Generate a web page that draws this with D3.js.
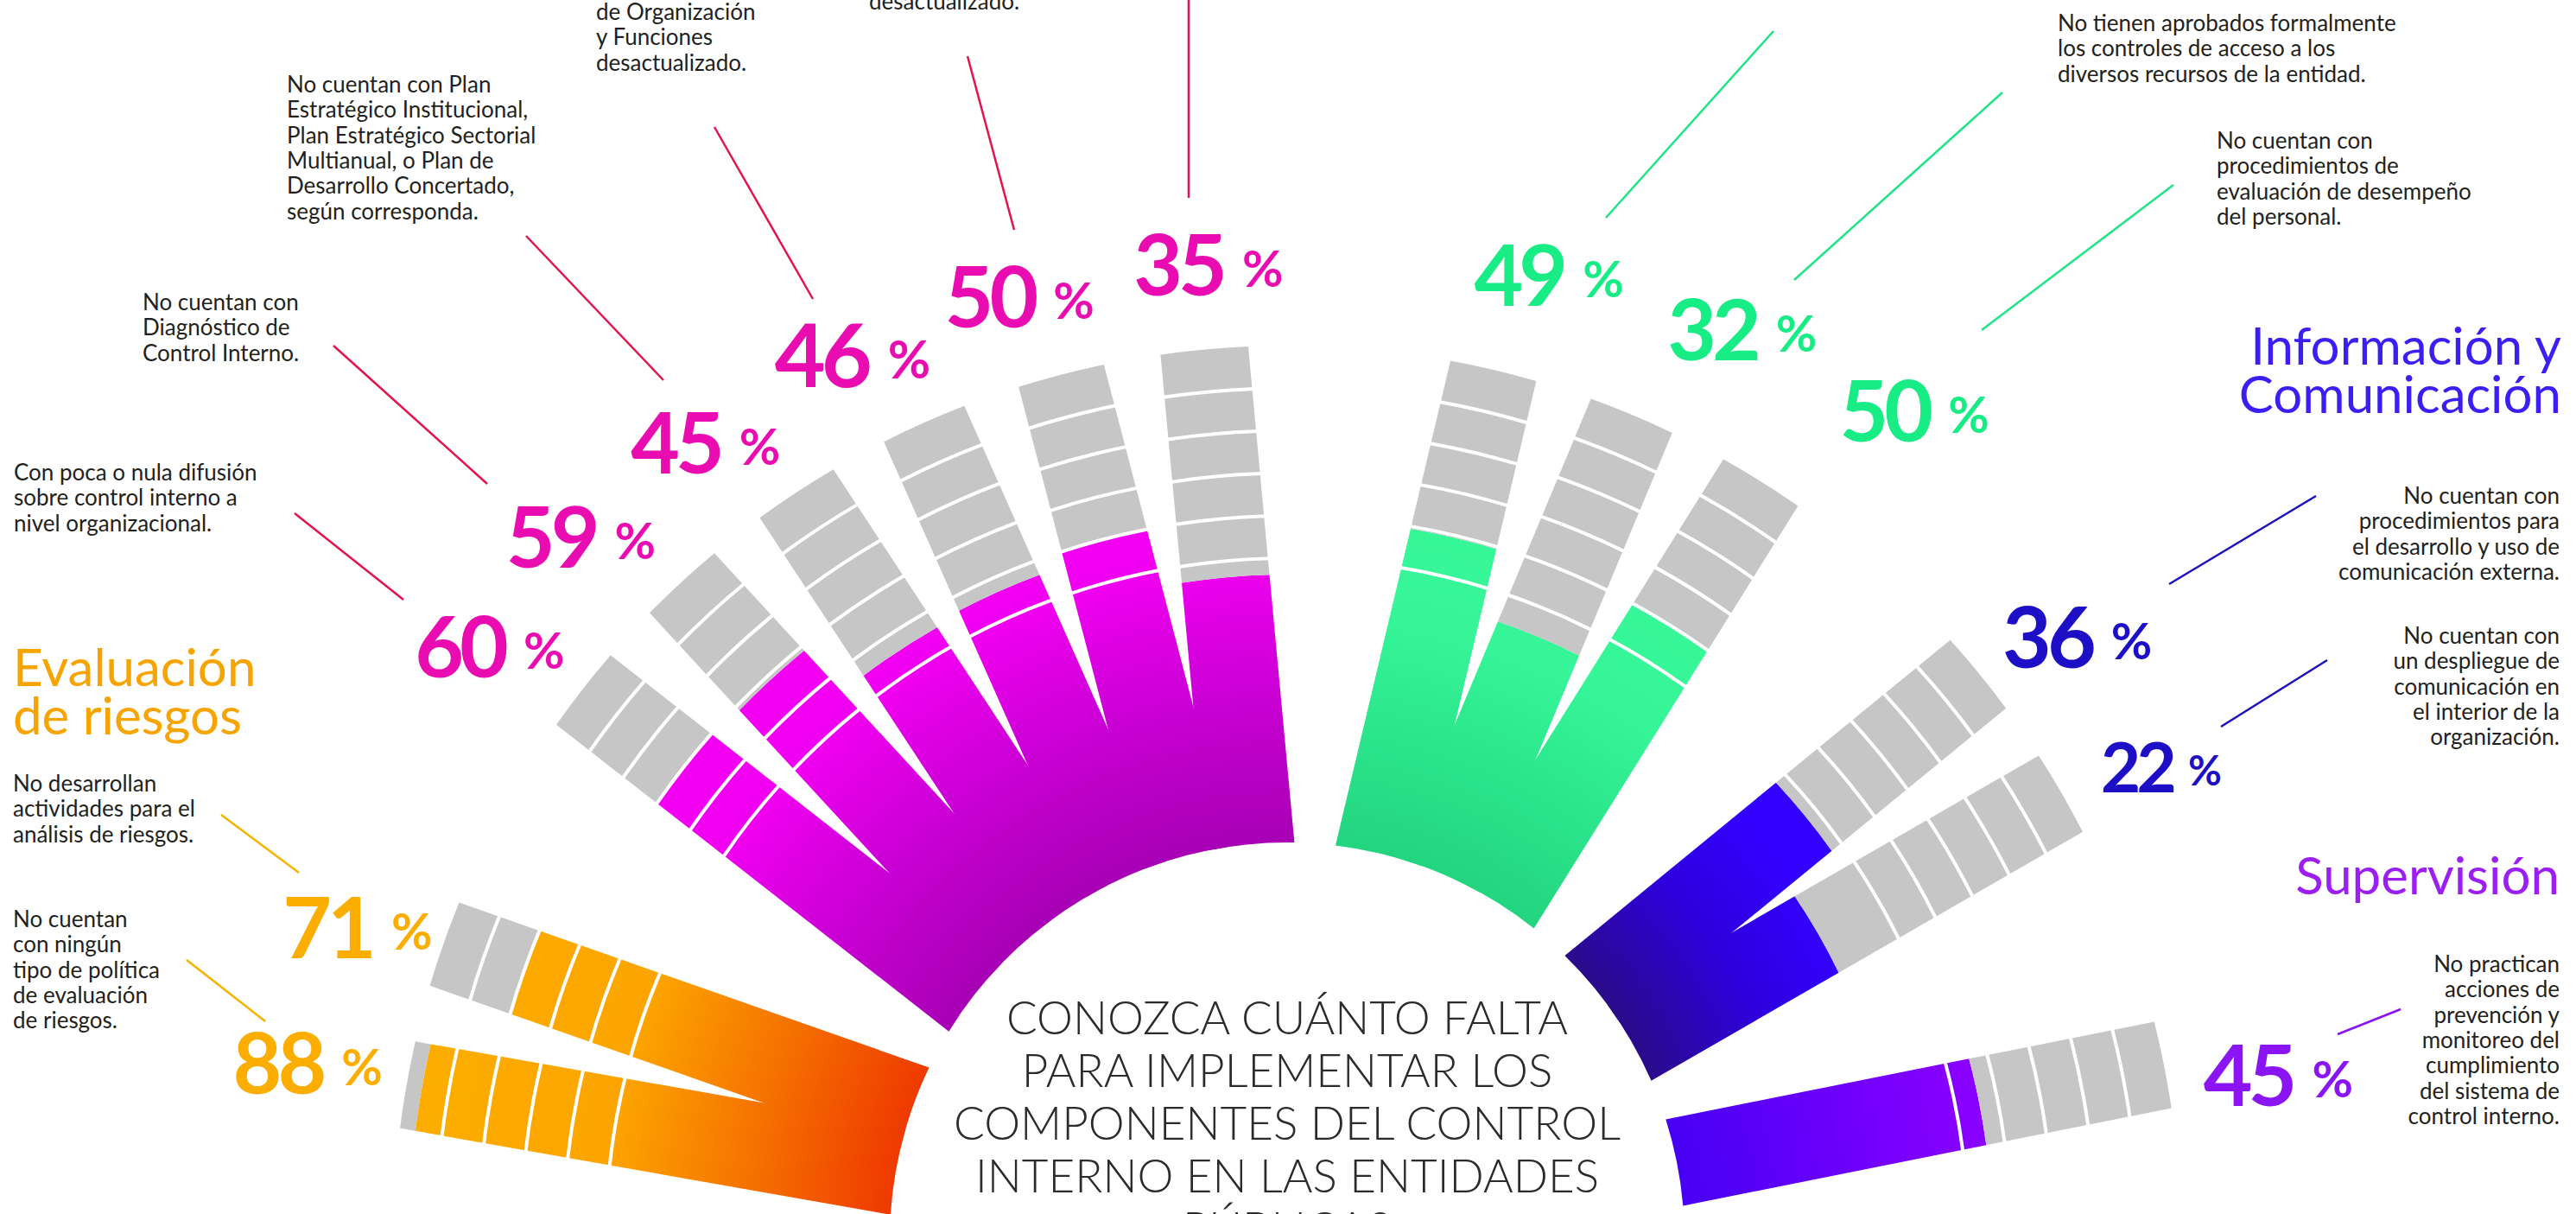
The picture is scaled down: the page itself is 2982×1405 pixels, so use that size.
<!DOCTYPE html>
<html>
<head>
<meta charset="utf-8">
<script src="https://cdn.jsdelivr.net/npm/d3@7"></script>
<style>
    html, body { margin: 0; padding: 0; background: #fff; overflow: hidden; }
    text { font-family: Lato, "Open Sans", sans-serif; }
</style>
</head>
<body>
<div id="chart"></div>
<script>
// values read off the infographic: % of entities that lack each element
var groupKeys = ["riesgos", "ambiente", "actividades", "informacion", "supervision"];
var barGroups = ["riesgos", "riesgos",
    "ambiente", "ambiente", "ambiente", "ambiente", "ambiente", "ambiente",
    "actividades", "actividades", "actividades",
    "informacion", "informacion",
    "supervision"];
var barValues = [88, 71, 60, 59, 45, 46, 50, 35, 49, 32, 50, 36, 22, 45];

var groupTitles = {
    riesgos: ["Evaluación", "de riesgos"],
    informacion: ["Información y", "Comunicación"],
    supervision: ["Supervisión"]
};

var barNotes = [
    ["No cuentan", "con ningún", "tipo de política", "de evaluación", "de riesgos."],
    ["No desarrollan", "actividades para el", "análisis de riesgos."],
    ["Con poca o nula difusión", "sobre control interno a", "nivel organizacional."],
    ["No cuentan con", "Diagnóstico de", "Control Interno."],
    ["No cuentan con Plan", "Estratégico Institucional,", "Plan Estratégico Sectorial", "Multianual, o Plan de", "Desarrollo Concertado,", "según corresponda."],
    ["de Organización", "y Funciones", "desactualizado."],
    ["desactualizado."],
    [],
    [],
    ["No tienen aprobados formalmente", "los controles de acceso a los", "diversos recursos de la entidad."],
    ["No cuentan con", "procedimientos de", "evaluación de desempeño", "del personal."],
    ["No cuentan con", "procedimientos para", "el desarrollo y uso de", "comunicación externa."],
    ["No cuentan con", "un despliegue de", "comunicación en", "el interior de la", "organización."],
    ["No practican", "acciones de", "prevención y", "monitoreo del", "cumplimiento", "del sistema de", "control interno."]
];

var titleLines = ["CONOZCA CUÁNTO FALTA", "PARA IMPLEMENTAR LOS", "COMPONENTES DEL CONTROL", "INTERNO EN LAS ENTIDADES", "PÚBLICAS"];

// ---- layout ----
var width = 2982, height = 1405;
var cx = 1490, cy = 1435;
var rInner = 460, rOuter = 1035, halfW = 51;
var ringStep = 49.2, ringCount = 5;

var groupColor = {
    riesgos: "#fbad00",
    ambiente: "#e90cb1",
    actividades: "#17ec85",
    informacion: "#1d0fc6",
    supervision: "#8b14f2"
};
var leaderColor = {
    riesgos: "#f5b400",
    ambiente: "#e3144d",
    actividades: "#1fe486",
    informacion: "#1a10c0",
    supervision: "#8a12f0"
};
var titleColor = {
    riesgos: "#f7a400",
    informacion: "#3b1ef2",
    supervision: "#9b1ff2"
};
var gradStops = {
    riesgos: [[0.44, "#ee3800"], [0.6, "#f57000"], [0.76, "#fca400"], [1, "#fdae00"]],
    ambiente: [[0.44, "#a600b4"], [0.62, "#cc00d6"], [0.76, "#f000f0"], [1, "#f800f8"]],
    actividades: [[0.44, "#22d47e"], [0.7, "#35f598"], [1, "#3afb9a"]],
    informacion: [[0.44, "#2b0b88"], [0.58, "#2e00dc"], [0.7, "#3300ff"], [1, "#3300ff"]],
    supervision: [[0.44, "#4600f4"], [0.78, "#8a00ff"], [1, "#8c00ff"]]
};

// label placement: [radius, angle offset, size factor] relative to its bar
var labelNudge = [[1152, 0.2, 1], [1135, -0.8, 1], [1150, -1.4, 1], [1153, -2.5, 1], [1142, -2.8, 1], [1140, -2.2, 1.04],
    [1134, -1.2, 1], [1132, 0.7, 1], [1156, 1.85, 1], [1177, 3.9, 1], [1203, 5.1, 1], [1150, 2.0, 1], [1150, 1.6, 0.82], [1163, 1.9, 1]];

// note blocks: x, first baseline, anchor ; leader: x1, y1, x2, y2
var noteLayout = [
    [15, 1073, "start"], [15, 916, "start"], [16, 556, "start"], [165, 359, "start"],
    [332, 107, "start"], [690, 23, "start"], [1006, 11, "start"], [0, 0, "start"], [0, 0, "start"],
    [2382, 36, "start"], [2566, 172, "start"], [2963, 583, "end"], [2963, 745, "end"], [2963, 1125, "end"]
];
var leaders = [
    [216, 1111, 307, 1182], [256, 943, 346, 1010], [341, 594, 467, 694], [386, 400, 564, 560],
    [609, 273, 768, 440], [827, 147, 941, 346], [1120, 65, 1174, 266], [1376, 0, 1376, 229],
    [2053, 36, 1859, 252], [2318, 107, 2077, 324], [2516, 214, 2294, 382],
    [2681, 574, 2511, 676], [2694, 764, 2571, 841], [2779, 1168, 2706, 1197]
];
var titleLayout = {
    riesgos: [15, 794, "start"],
    informacion: [2965, 422, "end"],
    supervision: [2963, 1035, "end"]
};

var svg = d3.select("#chart")
    .append("svg")
    .attr("width", width)
    .attr("height", height);

// angular slots: one per bar, a blank slot between components
var slots = [];
groupKeys.forEach(function (g, gi) {
    if (gi > 0) slots.push("gap" + gi);
    barGroups.forEach(function (bg, i) {
        if (bg === g) slots.push("bar" + i);
    });
});
var angle = d3.scalePoint().domain(slots).range([-80, 78.7]);
var radius = d3.scaleLinear().domain([0, 100]).range([607, 1073]);

var bars = barValues.map(function (v, i) {
    return { v: v, g: barGroups[i], a: angle("bar" + i), i: i };
});

var defs = svg.append("defs");
groupKeys.forEach(function (g) {
    var grad = defs.append("radialGradient")
        .attr("id", "grad-" + g)
        .attr("gradientUnits", "userSpaceOnUse")
        .attr("cx", 0).attr("cy", 0).attr("r", rOuter);
    gradStops[g].forEach(function (s) {
        grad.append("stop").attr("offset", s[0]).attr("stop-color", s[1]);
    });
});

// rectangle of half width hw between two radii, ends cut as arcs
function bandPath(r0, r1, hw) {
    var y0 = Math.sqrt(r0 * r0 - hw * hw), y1 = Math.sqrt(r1 * r1 - hw * hw);
    return "M" + (-hw) + "," + (-y0) + "L" + (-hw) + "," + (-y1) +
        "A" + r1 + "," + r1 + " 0 0 1 " + hw + "," + (-y1) +
        "L" + hw + "," + (-y0) +
        "A" + r0 + "," + r0 + " 0 0 0 " + (-hw) + "," + (-y0) + "Z";
}

function ringPath(r, hw) {
    var y = Math.sqrt(r * r - hw * hw);
    return "M" + (-hw) + "," + (-y) + "A" + r + "," + r + " 0 0 1 " + hw + "," + (-y);
}

var plot = svg.append("g")
    .attr("transform", "translate(" + cx + "," + cy + ")");

var barG = plot.selectAll(".bar")
    .data(bars).enter()
    .append("g")
    .attr("class", "bar")
    .attr("transform", function (d) { return "rotate(" + d.a + ")"; });

barG.append("path")
    .attr("class", "filled")
    .attr("d", function (d) { return bandPath(rInner, Math.min(radius(d.v), rOuter), halfW); })
    .style("fill", function (d) { return "url(#grad-" + d.g + ")"; });

barG.append("path")
    .attr("class", "rest")
    .attr("d", function (d) { return bandPath(Math.min(radius(d.v), rOuter), rOuter, halfW); })
    .style("fill", "#c6c6c6");

var rings = d3.range(1, ringCount + 1).map(function (k) { return rOuter - k * ringStep; });

barG.selectAll(".ring")
    .data(rings).enter()
    .append("path")
    .attr("class", "ring")
    .attr("d", function (r) { return ringPath(r, halfW + 2); })
    .style("fill", "none")
    .style("stroke", "#fff")
    .style("stroke-width", 4);

// percentage labels
function polar(r, a) {
    var t = a * Math.PI / 180;
    return [cx + r * Math.sin(t), cy - r * Math.cos(t)];
}

var pct = svg.selectAll(".pct")
    .data(bars).enter()
    .append("text")
    .attr("class", "pct")
    .attr("text-anchor", "middle")
    .attr("x", function (d) { return polar(labelNudge[d.i][0], d.a + labelNudge[d.i][1])[0]; })
    .attr("y", function (d) { return polar(labelNudge[d.i][0], d.a + labelNudge[d.i][1])[1] + 35 * labelNudge[d.i][2]; })
    .style("fill", function (d) { return groupColor[d.g]; })
    .style("font-weight", 700);

pct.append("tspan")
    .style("font-size", function (d) { return (98 * labelNudge[d.i][2]) + "px"; })
    .style("letter-spacing", "-5px")
    .text(function (d) { return d.v; });

pct.append("tspan")
    .attr("dx", function (d) { return 22 * labelNudge[d.i][2]; })
    .attr("dy", function (d) { return -10 * labelNudge[d.i][2]; })
    .style("font-size", function (d) { return (58 * labelNudge[d.i][2]) + "px"; })
    .text("%");

// leader lines
svg.selectAll(".leader")
    .data(bars).enter()
    .append("line")
    .attr("class", "leader")
    .attr("x1", function (d) { return leaders[d.i][0]; })
    .attr("y1", function (d) { return leaders[d.i][1]; })
    .attr("x2", function (d) { return leaders[d.i][2]; })
    .attr("y2", function (d) { return leaders[d.i][3]; })
    .style("stroke", function (d) { return leaderColor[d.g]; })
    .style("stroke-width", 2.5);

// note texts
var notes = svg.selectAll(".note")
    .data(bars.filter(function (d) { return barNotes[d.i].length > 0; })).enter()
    .append("text")
    .attr("class", "note")
    .attr("text-anchor", function (d) { return noteLayout[d.i][2]; })
    .style("font-size", "26px")
    .style("fill", "#231f20");

notes.selectAll("tspan")
    .data(function (d) { return barNotes[d.i].map(function (t, k) { return { t: t, k: k, i: d.i }; }); })
    .enter()
    .append("tspan")
    .attr("x", function (d) { return noteLayout[d.i][0]; })
    .attr("y", function (d) { return noteLayout[d.i][1] + d.k * 29.3; })
    .text(function (d) { return d.t; });

// component titles
Object.keys(groupTitles).forEach(function (g) {
    var t = svg.append("text")
        .attr("class", "component")
        .attr("text-anchor", titleLayout[g][2])
        .style("font-size", "60px")
        .style("fill", titleColor[g]);
    groupTitles[g].forEach(function (line, k) {
        t.append("tspan")
            .attr("x", titleLayout[g][0])
            .attr("y", titleLayout[g][1] + k * 56)
            .text(line);
    });
});

// centre title
svg.append("g")
    .attr("class", "title")
    .selectAll("text")
    .data(titleLines).enter()
    .append("text")
    .attr("x", cx)
    .attr("y", function (d, i) { return 1197 + i * 61; })
    .attr("text-anchor", "middle")
    .style("font-size", "53px")
    .style("font-weight", 300)
    .style("fill", "#2b2b2b")
    .text(function (d) { return d; });
</script>
</body>
</html>
